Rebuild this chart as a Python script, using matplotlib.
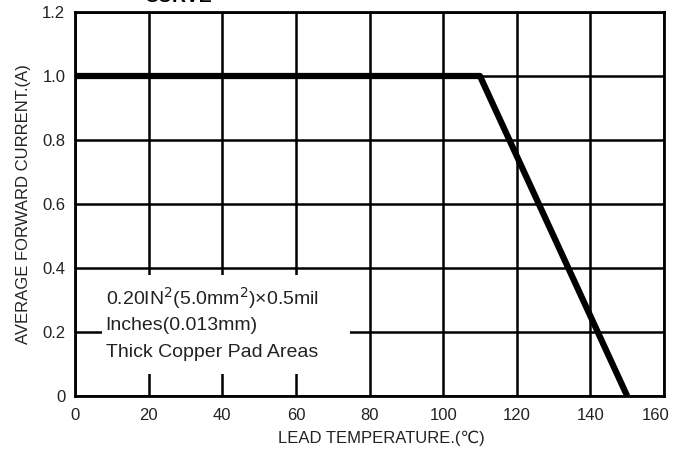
import matplotlib
matplotlib.use("Agg")
import matplotlib.pyplot as plt
from matplotlib.patches import Rectangle
import matplotlib.transforms as mtransforms

temps = [0, 110, 150]
current = [1.0, 1.0, 0.0]
x_ticks = [0, 20, 40, 60, 80, 100, 120, 140, 160]
y_ticks = [0, 0.2, 0.4, 0.6, 0.8, 1.0, 1.2]
y_tick_labels = ["0", "0.2", "0.4", "0.6", "0.8", "1.0", "1.2"]

plt.rcParams['font.family'] = ['Liberation Sans', 'DejaVu Sans']

fig = plt.figure(figsize=(6.74, 4.5), dpi=100)
ax = fig.add_axes([75/674, 1 - 396/450, (664-75)/674, (396-12)/450])
ax.set_xlim(0, 160)
ax.set_ylim(0, 1.2)
ax.set_xticks(x_ticks)
ax.set_yticks(y_ticks)
ax.set_yticklabels(y_tick_labels)
ax.tick_params(length=0, labelsize=12, colors='#222222')
ax.tick_params(axis='x', pad=9)
ax.tick_params(axis='y', pad=7)
ax.grid(True, color='black', linewidth=1.8)
ax.set_axisbelow(True)
for s in ax.spines.values():
    s.set_linewidth(2)
    s.set_color('black')

ax.plot(temps, current, color='black', linewidth=4.5, solid_capstyle='butt', zorder=5)

ax.add_patch(Rectangle((7.3, 0.07), 67.5, 0.307, facecolor='white', edgecolor='none', zorder=3))
ax.text(8.3, 0.305, "0.20IN$^2$(5.0mm$^2$)×0.5mil", fontsize=14, va='center', ha='left', zorder=4, color='#222222')
ax.text(8.3, 0.22, "Inches(0.013mm)", fontsize=14, va='center', ha='left', zorder=4, color='#222222')
ax.text(8.3, 0.135, "Thick Copper Pad Areas", fontsize=14, va='center', ha='left', zorder=4, color='#222222')

ax.set_xlabel("LEAD TEMPERATURE.(℃)", fontsize=12, color='#222222')
ax.xaxis.set_label_coords(0.52, -0.09)
ax.set_ylabel("AVERAGE FORWARD CURRENT.(A)", fontsize=12, labelpad=8, color='#222222')

fig.canvas.draw()
last = ax.get_xticklabels()[-1]
last.set_transform(last.get_transform() + mtransforms.ScaledTranslation(-8/100, 0, fig.dpi_scale_trans))

fig.text(178/674, 1 + 2/450, "CURVE", fontsize=14, fontweight='bold', ha='center', va='center')

fig.savefig("out.png", dpi=100)
